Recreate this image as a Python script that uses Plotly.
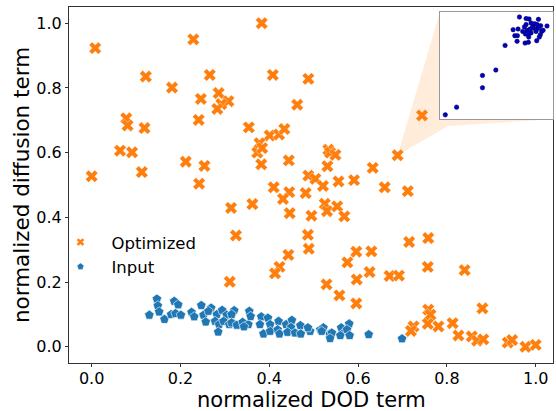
import plotly.graph_objects as go

# Optimized designs (orange crosses)
opt_x = [0.008, 0.000, 0.122, 0.181, 0.229, 0.266, 0.383, 0.408, 0.488, 0.286,
         0.246, 0.308, 0.292, 0.283, 0.463, 0.078, 0.081, 0.119, 0.241, 0.354,
         0.401, 0.422, 0.434, 0.064, 0.091, 0.113, 0.212, 0.254, 0.242, 0.378,
         0.373, 0.384, 0.382, 0.444, 0.314, 0.362, 0.410, 0.445, 0.431, 0.446,
         0.482, 0.488, 0.504, 0.521, 0.531, 0.533, 0.537, 0.549, 0.556, 0.591,
         0.633, 0.660, 0.689, 0.495, 0.525, 0.530, 0.553, 0.569, 0.325, 0.487,
         0.489, 0.443, 0.423, 0.413, 0.311, 0.596, 0.630, 0.715, 0.758, 0.576,
         0.626, 0.597, 0.529, 0.558, 0.596, 0.671, 0.692, 0.757, 0.840, 0.758,
         0.763, 0.757, 0.781, 0.725, 0.719, 0.813, 0.880, 0.826, 0.856, 0.868,
         0.882, 0.937, 0.947, 0.977, 1.000, 0.712, 0.744]
opt_y = [0.923, 0.527, 0.835, 0.801, 0.950, 0.840, 1.000, 0.840, 0.828, 0.784,
         0.766, 0.759, 0.750, 0.735, 0.748, 0.706, 0.684, 0.676, 0.701, 0.678,
         0.653, 0.656, 0.673, 0.606, 0.601, 0.540, 0.572, 0.559, 0.504, 0.629,
         0.600, 0.614, 0.564, 0.576, 0.429, 0.441, 0.493, 0.478, 0.457, 0.413,
         0.475, 0.529, 0.519, 0.497, 0.558, 0.609, 0.600, 0.593, 0.511, 0.515,
         0.553, 0.493, 0.592, 0.405, 0.442, 0.419, 0.434, 0.403, 0.344, 0.346,
         0.303, 0.284, 0.247, 0.227, 0.201, 0.294, 0.295, 0.324, 0.336, 0.261,
         0.231, 0.208, 0.193, 0.159, 0.134, 0.219, 0.220, 0.247, 0.237, 0.115,
         0.099, 0.071, 0.063, 0.063, 0.049, 0.073, 0.119, 0.035, 0.032, 0.019,
         0.023, 0.013, 0.021, 0.000, 0.006, 0.481, 0.715]

# Input designs (blue pentagons)
inp_x = [0.147, 0.149, 0.152, 0.130, 0.164, 0.186, 0.195, 0.179, 0.189, 0.201,
         0.225, 0.231, 0.247, 0.252, 0.257, 0.269, 0.263, 0.282, 0.278, 0.287,
         0.285, 0.294, 0.304, 0.297, 0.316, 0.317, 0.310, 0.321, 0.315, 0.315,
         0.327, 0.340, 0.353, 0.355, 0.358, 0.343, 0.382, 0.397, 0.379, 0.402,
         0.387, 0.402, 0.421, 0.419, 0.423, 0.438, 0.451, 0.449, 0.441, 0.458,
         0.470, 0.471, 0.492, 0.487, 0.515, 0.536, 0.522, 0.518, 0.541, 0.537,
         0.562, 0.571, 0.580, 0.575, 0.560, 0.581, 0.624, 0.699]
inp_y = [0.148, 0.127, 0.108, 0.098, 0.085, 0.141, 0.130, 0.100, 0.103, 0.098,
         0.107, 0.093, 0.128, 0.098, 0.077, 0.120, 0.110, 0.100, 0.079, 0.069,
         0.046, 0.113, 0.098, 0.079, 0.100, 0.074, 0.069, 0.112, 0.100, 0.074,
         0.067, 0.076, 0.069, 0.110, 0.094, 0.062, 0.093, 0.089, 0.069, 0.069,
         0.040, 0.048, 0.079, 0.053, 0.040, 0.069, 0.082, 0.060, 0.045, 0.043,
         0.066, 0.040, 0.048, 0.059, 0.053, 0.040, 0.059, 0.048, 0.043, 0.026,
         0.059, 0.046, 0.071, 0.053, 0.035, 0.035, 0.038, 0.025]

# Inset: close-up of one optimized design (normalized inset coordinates)
inset_x = [0.703, 0.762, 0.788, 0.871, 0.806, 0.838, 0.762, 0.747, 0.859, 0.891,
           0.947, 0.824, 0.862, 0.647, 0.691, 0.732, 0.771, 0.791, 0.806, 0.850,
           0.900, 0.912, 0.756, 0.782, 0.888, 0.662, 0.685, 0.785, 0.879, 0.682,
           0.753, 0.782, 0.856, 0.797, 0.821, 0.874, 0.776, 0.576, 0.494, 0.376,
           0.376, 0.147, 0.047]
inset_y = [0.953, 0.938, 0.935, 0.931, 0.897, 0.891, 0.882, 0.860, 0.882, 0.872,
           0.869, 0.847, 0.847, 0.835, 0.841, 0.819, 0.829, 0.819, 0.804, 0.819,
           0.819, 0.829, 0.794, 0.791, 0.788, 0.779, 0.779, 0.766, 0.766, 0.726,
           0.710, 0.717, 0.732, 0.841, 0.866, 0.850, 0.804, 0.688, 0.458, 0.408,
           0.293, 0.112, 0.040]

tick_vals = [0.0, 0.2, 0.4, 0.6, 0.8, 1.0]
tick_text = ["0.0", "0.2", "0.4", "0.6", "0.8", "1.0"]

ZOOM_IDX = 52  # optimized design shown in the inset

ORANGE = "#ff7f0e"
BLUE = "#1f77b4"
FONT = "DejaVu Sans"

X_RANGE = [-0.051, 1.039]
Y_RANGE = [-0.05, 1.05]
INSET_XDOM = [0.7665, 1.0]
INSET_YDOM = [0.685, 0.986]

fig = go.Figure()

fig.add_trace(go.Scatter(
    x=inp_x, y=inp_y, mode="markers", showlegend=False,
    marker=dict(symbol="pentagon", size=10, color=BLUE,
                line=dict(color="white", width=0.6)),
))
fig.add_trace(go.Scatter(
    x=opt_x, y=opt_y, mode="markers", showlegend=False,
    marker=dict(symbol="x", size=11, color=ORANGE,
                line=dict(color="white", width=0.4)),
))

# legend entries with small markers
fig.add_trace(go.Scatter(
    x=[None], y=[None], mode="markers", name="Optimized",
    marker=dict(symbol="x", size=7, color=ORANGE, line=dict(color="white", width=0.3)),
))
fig.add_trace(go.Scatter(
    x=[None], y=[None], mode="markers", name="Input",
    marker=dict(symbol="pentagon", size=7, color=BLUE, line=dict(color="white", width=0.3)),
))

# inset
fig.add_trace(go.Scatter(
    x=inset_x, y=inset_y, xaxis="x2", yaxis="y2", mode="markers", showlegend=False,
    marker=dict(symbol="circle", size=4.5, color="#0000cd",
                line=dict(color="#000044", width=0.5)),
))

# zoom connector from the chosen design to the inset
def to_paper(v, rng):
    return (v - rng[0]) / (rng[1] - rng[0])

px0 = to_paper(opt_x[ZOOM_IDX], X_RANGE)
py0 = to_paper(opt_y[ZOOM_IDX], Y_RANGE)
path = (f"M {px0},{py0} L {INSET_XDOM[0]},{INSET_YDOM[1]} "
        f"L {INSET_XDOM[1]},{INSET_YDOM[0]} "
        f"L {INSET_XDOM[0] + 0.0165},{INSET_YDOM[0] - 0.019} Z")
fig.add_shape(type="path", path=path, xref="paper", yref="paper",
              fillcolor="rgba(255,127,14,0.15)", line=dict(width=0), layer="below")

# x-axis title placed as an annotation below the tick labels
fig.add_annotation(text="normalized DOD term", xref="paper", yref="paper",
                   x=0.5, y=0, xanchor="center", yanchor="top", yshift=-23.5,
                   borderpad=0, showarrow=False,
                   font=dict(family=FONT, size=21, color="black"))

axis_common = dict(
    showgrid=False, zeroline=False, showline=True, mirror=True, automargin=False,
    linecolor="#333333", linewidth=1, ticks="outside", ticklen=3,
    tickcolor="#333333", tickfont=dict(family=FONT, size=16, color="black"),
    tickvals=tick_vals, ticktext=tick_text,
)

fig.update_layout(
    width=556, height=411,
    margin=dict(l=69, r=3, t=7, b=48),
    paper_bgcolor="white", plot_bgcolor="white",
    font=dict(family=FONT, color="black"),
    xaxis=dict(range=X_RANGE, ticklabelstandoff=-2, **axis_common),
    yaxis=dict(range=Y_RANGE, title=dict(text="normalized diffusion term",
               font=dict(family=FONT, size=21.5), standoff=0), **axis_common),
    xaxis2=dict(domain=INSET_XDOM, anchor="y2", range=[0, 1], showgrid=False,
                zeroline=False, showticklabels=False, ticks="", showline=True,
                mirror=True, linecolor="#999999", linewidth=1),
    yaxis2=dict(domain=INSET_YDOM, anchor="x2", range=[0, 1], showgrid=False,
                zeroline=False, showticklabels=False, ticks="", showline=True,
                mirror=True, linecolor="#999999", linewidth=1),
    legend=dict(x=-0.0403, y=0.388, xanchor="left", yanchor="top",
                itemwidth=52, bgcolor="rgba(0,0,0,0)", borderwidth=0,
                font=dict(family=FONT, size=16.5, color="black")),
)

fig.write_html("out.html")
